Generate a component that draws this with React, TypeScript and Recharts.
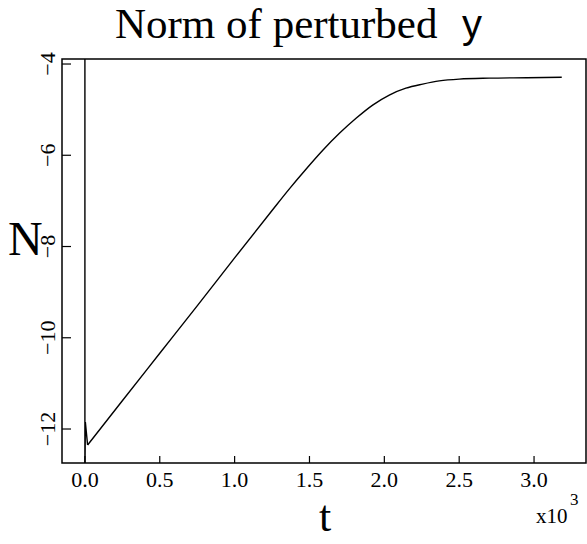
import React from 'react';
import { LineChart, Line, XAxis, YAxis, ReferenceArea } from 'recharts';

// initial transient at t = 0 (runs off the plot both ways)
const spikeT = [0, 0, 3, 18];
const spikeN = [-3.0, -13.2, -11.85, -12.35];

// growth of the perturbation norm, then saturation
const curveT = [18, 250, 500, 750, 1000, 1250, 1367, 1478, 1589, 1700, 1811, 1922, 2033, 2144, 2256, 2367, 2500, 2700, 2950, 3185];
const curveN = [-12.35, -11.38, -10.34, -9.3, -8.25, -7.21, -6.73, -6.3, -5.89, -5.52, -5.19, -4.9, -4.68, -4.53, -4.44, -4.37, -4.33, -4.31, -4.3, -4.29];

const xTicks = [0, 500, 1000, 1500, 2000, 2500, 3000];
const yTicks = [-12, -10, -8, -6, -4];

const X_DOMAIN: [number, number] = [-153, 3347];
const Y_DOMAIN: [number, number] = [-12.745, -3.89];

const FONT = 'Liberation Serif';
const SANS = 'Liberation Sans';

const spikeData = spikeT.map((t, i) => ({ t, n: spikeN[i] }));
const curveData = curveT.map((t, i) => ({ t, n: curveN[i] }));

const XTick = (props: any) => {
  const { x, y, payload } = props;
  return (
    <g>
      <line x1={x} y1={y} x2={x} y2={y - 7} stroke="#000" strokeWidth={1.2} />
      <text x={x} y={y + 24} textAnchor="middle" style={{ fontFamily: FONT, fontSize: 22 }} fill="#000">
        {(payload.value / 1000).toFixed(1)}
      </text>
    </g>
  );
};

const YTick = (props: any) => {
  const { x, y, payload } = props;
  const label = String(payload.value).replace('-', '\u2212');
  return (
    <g>
      <line x1={x} y1={y} x2={x + 9} y2={y} stroke="#000" strokeWidth={1.2} />
      <text
        transform={`translate(${x - 7}, ${y}) rotate(-90)`}
        textAnchor="middle"
        style={{ fontFamily: FONT, fontSize: 22 }}
        fill="#000"
      >
        {label}
      </text>
    </g>
  );
};

export default function App() {
  return (
    <div style={{ position: 'absolute', left: 0, top: 0, width: 587, height: 544, background: '#fff' }}>
      <LineChart width={587} height={544} margin={{ top: 59, right: 1, bottom: 0, left: 0 }}>
        <XAxis
          dataKey="t"
          type="number"
          domain={X_DOMAIN}
          ticks={xTicks}
          allowDataOverflow
          height={81}
          tickSize={0}
          tickMargin={0}
          axisLine={false}
          tick={<XTick />}
        />
        <YAxis
          dataKey="n"
          type="number"
          domain={Y_DOMAIN}
          ticks={yTicks}
          allowDataOverflow
          width={62}
          tickSize={0}
          tickMargin={0}
          axisLine={false}
          tick={<YTick />}
        />
        <ReferenceArea
          x1={X_DOMAIN[0]}
          x2={X_DOMAIN[1]}
          y1={Y_DOMAIN[0]}
          y2={Y_DOMAIN[1]}
          fill="none"
          fillOpacity={0}
          stroke="#000"
          strokeWidth={1.5}
        />
        <Line
          data={spikeData}
          dataKey="n"
          type="linear"
          stroke="#000"
          strokeWidth={1.4}
          dot={false}
          isAnimationActive={false}
        />
        <Line
          data={curveData}
          dataKey="n"
          type="monotone"
          stroke="#000"
          strokeWidth={1.4}
          dot={false}
          isAnimationActive={false}
        />
      </LineChart>
      <svg
        width={587}
        height={544}
        style={{ position: 'absolute', left: 0, top: 0, pointerEvents: 'none' }}
      >
        <text x={115} y={38} style={{ fontFamily: FONT, fontSize: 43 }} fill="#000">
          Norm of perturbed
        </text>
        <text x={462} y={38} style={{ fontFamily: SANS, fontSize: 40 }} fill="#000">
          y
        </text>
        <text x={8} y={255} style={{ fontFamily: FONT, fontSize: 48 }} fill="#000">
          N
        </text>
        <text x={325} y={531} textAnchor="middle" style={{ fontFamily: FONT, fontSize: 44 }} fill="#000">
          t
        </text>
        <text x={536} y={523} style={{ fontFamily: FONT, fontSize: 21 }} fill="#000">
          x10
        </text>
        <text x={570} y={505} style={{ fontFamily: FONT, fontSize: 17 }} fill="#000">
          3
        </text>
      </svg>
    </div>
  );
}
